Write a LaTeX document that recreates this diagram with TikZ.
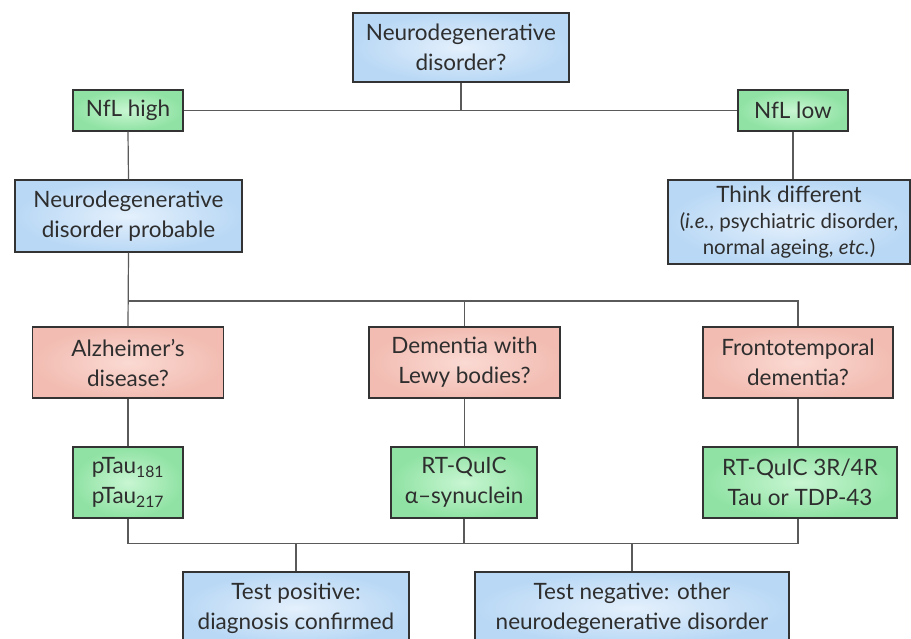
\documentclass[tikz,border=0pt]{standalone}
\usepackage{fontspec}
\setmainfont{Lato}
\definecolor{boxline}{HTML}{333333}
\definecolor{conn}{HTML}{5A5A5A}
\definecolor{bluein}{HTML}{E4F0FC}
\definecolor{blueout}{HTML}{B9D8F5}
\definecolor{greenin}{HTML}{C8F6D2}
\definecolor{greenout}{HTML}{8FE2A3}
\definecolor{pinkin}{HTML}{FADAD3}
\definecolor{pinkout}{HTML}{F2BCB2}
\tikzset{
  box/.style={draw=boxline, line width=1.4pt, align=center, inner sep=0pt,
    font=\fontsize{22.5}{30}\selectfont, text=black!82},
  bluebox/.style={box, inner color=bluein, outer color=blueout},
  greenbox/.style={box, inner color=greenin, outer color=greenout},
  pinkbox/.style={box, inner color=pinkin, outer color=pinkout},
  conn/.style={draw=conn, line width=1.2pt}
}
\begin{document}
\begin{tikzpicture}[x=1pt, y=-1pt]
\useasboundingbox (0,0) rectangle (911,639);
\clip (0,0) rectangle (911,639);
\fill[white] (0,0) rectangle (911,639);

\node[bluebox, minimum width=216pt, minimum height=69pt] (q) at (461,47.5) {Neurodegenerative\\disorder?};
\node[greenbox, minimum width=110pt, minimum height=41pt] (hi) at (128,110.5) {NfL high};
\node[greenbox, minimum width=110pt, minimum height=41pt] (lo) at (793,110.5) {NfL low};
\node[bluebox, minimum width=227pt, minimum height=72pt] (prob) at (128.5,216) {Neurodegenerative\\disorder probable};
\node[bluebox, minimum width=242pt, minimum height=84pt] (diff) at (789,222) {Think different\\[-4pt]{\fontsize{20.5}{27}\selectfont(\textit{i.e.}, psychiatric disorder,}\\[-4pt]{\fontsize{20.5}{27}\selectfont normal ageing, \textit{etc.})}};

\node[pinkbox, minimum width=191pt, minimum height=71pt] (ad) at (128,362.5) {Alzheimer’s\\disease?};
\node[pinkbox, minimum width=191pt, minimum height=71pt] (dlb) at (464.5,362.5) {Dementia with\\Lewy bodies?};
\node[pinkbox, minimum width=190pt, minimum height=71pt] (ftd) at (798,362.5) {Frontotemporal\\dementia?};

\node[greenbox, minimum width=110pt, minimum height=71pt] (pt) at (128,482.5) {pTau\textsubscript{181}\\pTau\textsubscript{217}};
\node[greenbox, minimum width=146pt, minimum height=71pt] (rt) at (464,482.5) {RT-QuIC\\α–synuclein};
\node[greenbox, minimum width=194pt, minimum height=71pt] (rt2) at (800,482.5) {RT-QuIC 3R/4R\\Tau or TDP-43};

\node[bluebox, minimum width=226pt, minimum height=72pt] (pos) at (296,608) {Test positive:\\diagnosis confirmed};
\node[bluebox, minimum width=314pt, minimum height=72pt] (neg) at (632,608) {Test negative: other\\neurodegenerative disorder};

\coordinate (b1) at (0,301);
\coordinate (b2) at (0,543.5);

\draw[conn] (q.south) -- (q.south |- hi.east);
\draw[conn] (hi.east) -- (lo.west);
\draw[conn] (hi.south) -- (prob.north);
\draw[conn] (lo.south) -- (lo.south |- diff.north);
\draw[conn] (prob.south) -- (ad.north);
\draw[conn] (prob.south |- b1) -- (ftd.north |- b1) -- (ftd.north);
\draw[conn] (dlb.north |- b1) -- (dlb.north);
\draw[conn] (ad.south) -- (pt.north);
\draw[conn] (dlb.south) -- (dlb.south |- rt.north);
\draw[conn] (ftd.south) -- (ftd.south |- rt2.north);
\draw[conn] (pt.south) -- (pt.south |- b2) -- (ftd.south |- b2) -- (ftd.south |- rt2.south);
\draw[conn] (rt.south) -- (rt.south |- b2);
\draw[conn] (pos.north |- b2) -- (pos.north);
\draw[conn] (neg.north |- b2) -- (neg.north);
\end{tikzpicture}
\end{document}
